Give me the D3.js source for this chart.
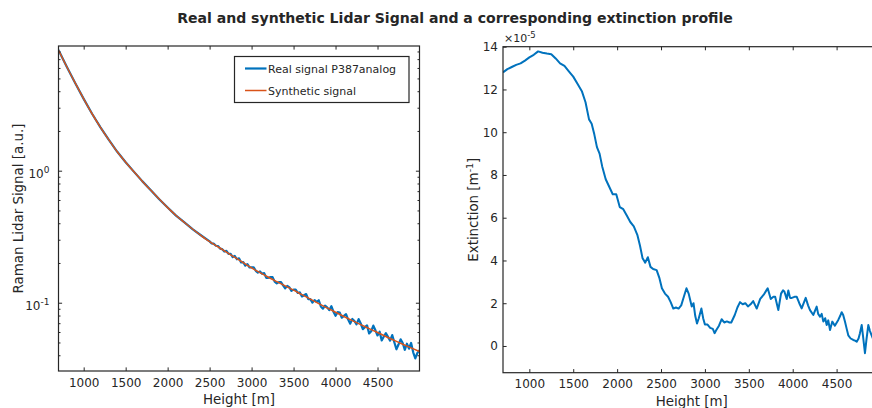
<!DOCTYPE html>
<html><head><meta charset="utf-8">
<script src="https://cdn.jsdelivr.net/npm/d3@7"></script>
<style>
body{margin:0;background:#fff}
text{font-family:"DejaVu Sans",sans-serif;fill:#262626}
</style>
</head><body><svg id="c" width="872" height="408"></svg>
<script>
// ---------------- DATA ----------------
const xTicks = [1000,1500,2000,2500,3000,3500,4000,4500];
const extTicks = [0,2,4,6,8,10,12,14];
const logMajorTicks = [0.1,1];
const logMinorTicks = [0.04,0.05,0.06,0.07,0.08,0.09,0.2,0.3,0.4,0.5,0.6,0.7,0.8,0.9,2,3,4,5,6,7,8];

const synthHeights = [700,800,900,1000,1100,1200,1300,1400,1500,1600,1700,1800,1900,2000,2100,2200,2300,2400,2500,2600,2700,2800,2900,3000,3100,3200,3300,3400,3500,3600,3700,3800,3900,4000,4100,4200,4300,4400,4500,4600,4700,4800,4900,5000];
const synthValues = [8.2,6.1,4.6,3.5,2.7,2.13,1.71,1.39,1.16,0.98,0.83,0.71,0.61,0.525,0.458,0.405,0.36,0.322,0.29,0.265,0.242,0.2205,0.201,0.1835,0.169,0.156,0.1445,0.134,0.1245,0.115,0.1065,0.0985,0.0913,0.0847,0.0787,0.0732,0.0682,0.0637,0.0595,0.0555,0.0518,0.0485,0.0455,0.0427];

const realHeights = [700,800,900,1000,1100,1200,1300,1400,1500,1600,1700,1800,1900,2000,2100,2200,2300,2400,
2500,2525,2550,2575,2600,2625,2650,2675,2700,2725,2750,2775,2800,2825,2850,2875,2900,2925,2950,2975,
3000,3025,3050,3075,3100,3125,3150,3175,3200,3225,3250,3275,3300,3325,3350,3375,3400,3425,3450,3475,
3500,3525,3550,3575,3600,3625,3650,3675,3700,3725,3750,3775,3800,3825,3850,3875,3900,3925,3950,3975,
4000,4025,4050,4075,4100,4125,4150,4175,4200,4225,4250,4275,4300,4325,4350,4375,4400,4425,4450,4475,
4500,4525,4550,4575,4600,4625,4650,4675,4700,4725,4750,4775,4800,4825,4850,4875,4900,4925,4950,4975,5000];
const realValues = [8.2,6.1,4.6,3.5,2.7,2.13,1.71,1.39,1.16,0.98,0.83,0.712,0.608,0.527,0.457,0.406,0.359,0.323,
0.2915,0.281,0.280,0.270,0.269,0.2567,0.2548,0.244,0.247,0.2342,0.2348,0.2214,0.226,0.2134,0.2171,0.2018,0.203,0.1907,0.1961,0.1851,
0.1853,0.1853,0.1745,0.1691,0.1724,0.1658,0.1674,0.1545,0.1544,0.1562,0.1563,0.1445,0.1402,0.1433,0.1435,0.1352,0.1286,0.1342,0.1306,0.1231,
0.1257,0.1258,0.1186,0.1197,0.1116,0.114,0.1163,0.1064,0.1065,0.1003,0.1046,0.1015,0.1044,0.0938,0.0902,0.095,0.0922,0.0879,0.0942,0.0855,
0.0796,0.0849,0.0842,0.077,0.0795,0.0819,0.0745,0.0694,0.0754,0.0727,0.0686,0.0751,0.0696,0.0631,0.0653,0.0674,0.0586,0.0608,0.0671,0.0618,
0.0565,0.0603,0.0518,0.0554,0.0588,0.0551,0.0516,0.0569,0.0502,0.0444,0.0482,0.0528,0.0495,0.044,0.0489,0.0449,0.0496,0.0421,0.0379,0.0417,0.0436];

// extinction in units of 1e-5 m^-1
const extHeights = [700,750,800,850,900,950,1000,1050,1100,1150,1200,1250,1300,1350,1400,1450,1500,1550,1600,1640,1680,1710,1740,1770,1800,1830,1870,1910,1950,1990,2030,2070,2110,2150,2190,2230,2260,2290,2320,2350,2380,2410,2450,2480,2510,2545,2580,2610,2640,2670,2700,2730,2760,2790,2815,2835,2850,2870,2890,2910,2930,2960,2980,3000,3030,3060,3090,3110,3130,3160,3190,3220,3250,3280,3300,3340,3370,3400,3430,3460,3490,3520,3550,3590,3630,3670,3700,3715,3750,3780,3800,3836,3867,3890,3905,3932,3950,3970,3990,4020,4046,4075,4102,4125,4148,4175,4197,4235,4273,4290,4311,4330,4349,4370,4387,4405,4425,4451,4480,4519,4540,4558,4575,4595,4615,4633,4660,4690,4710,4729,4750,4766,4786,4800,4823,4840,4861,4880,4899,4920,4950];
const extValues = [12.8,12.95,13.05,13.15,13.22,13.35,13.5,13.62,13.78,13.72,13.68,13.65,13.45,13.22,13.1,12.85,12.6,12.25,11.9,11.4,10.6,10.4,9.9,9.3,9.0,8.4,7.8,7.45,7.1,7.1,6.5,6.4,6.1,5.8,5.6,5.2,4.7,4.1,3.9,4.15,3.7,3.6,3.55,3.2,2.7,2.45,2.3,2.05,1.75,1.8,1.75,1.9,2.3,2.7,2.45,2.1,1.85,2.0,1.4,1.05,1.3,1.75,1.3,1.0,1.0,0.85,0.8,0.6,0.75,0.95,1.25,1.1,1.15,1.1,1.1,1.45,1.8,2.05,1.95,2.0,1.85,1.95,2.1,1.75,2.2,2.4,2.6,2.7,2.2,2.3,2.3,1.68,2.45,2.6,2.55,2.2,2.6,2.25,2.25,2.3,2.3,2.0,1.76,2.0,2.25,1.9,1.68,1.45,1.84,1.5,1.37,1.5,1.14,1.3,0.98,1.2,0.75,1.14,0.95,1.22,1.4,1.58,1.45,1.14,0.8,0.5,0.35,0.28,0.25,0.2,0.35,0.6,0.98,0.5,-0.34,0.3,0.98,0.7,0.5,0.28,0.4];

// ---------------- CHART ----------------
const svg = d3.select("#c");
const ink = "#262626";
const blue = "#0072BD", orange = "#D95319";

function superLabel(sel, base, sup, supSize) {
  sel.append("tspan").text(base);
  sel.append("tspan").attr("font-size", supSize).attr("dy", -5).text(sup);
}

// ===== LEFT PANEL =====
const L = {x0: 58.5, x1: 419.5, y0: 46, y1: 371};
const xL = d3.scaleLinear().domain([700, 5000]).range([L.x0, L.x1]);
const yL = d3.scaleLog().domain([0.0304, 8.8]).range([L.y1, L.y0]);

svg.append("clipPath").attr("id","clipL").append("rect")
  .attr("x", L.x0).attr("y", L.y0).attr("width", L.x1-L.x0).attr("height", L.y1-L.y0);

const realData = realHeights.map((h,i)=>[h, realValues[i]]);
const synthData = synthHeights.map((h,i)=>[h, synthValues[i]]);
const lineReal = d3.line().x(d=>xL(d[0])).y(d=>yL(d[1]));
const lineSynth = d3.line().x(d=>xL(d[0])).y(d=>yL(d[1])).curve(d3.curveMonotoneX);

svg.append("path").datum(realData).attr("clip-path","url(#clipL)")
  .attr("d", lineReal).attr("fill","none").attr("stroke", blue).attr("stroke-width", 2.2)
  .attr("stroke-linejoin","round");
svg.append("path").datum(synthData).attr("clip-path","url(#clipL)")
  .attr("d", lineSynth).attr("fill","none").attr("stroke", orange).attr("stroke-width", 1.5);

function styleAxis(g) {
  g.select(".domain").remove();
  g.selectAll(".tick line").attr("stroke", ink).attr("stroke-width", 1);
  g.selectAll(".tick text").attr("fill", ink).attr("font-size", 12).attr("font-family", "DejaVu Sans, sans-serif");
}

svg.append("g").attr("transform", `translate(0,${L.y1})`)
  .call(d3.axisBottom(xL).tickValues(xTicks).tickSize(-3.6).tickPadding(7).tickFormat(d3.format("d")))
  .call(styleAxis);
svg.append("g").attr("transform", `translate(0,${L.y0})`)
  .call(d3.axisTop(xL).tickValues(xTicks).tickSize(-3.6).tickFormat(""))
  .call(styleAxis);
svg.append("g").attr("transform", `translate(${L.x0},0)`)
  .call(d3.axisLeft(yL).tickValues(logMajorTicks).tickSize(-3.6).tickFormat(""))
  .call(styleAxis);
svg.append("g").attr("transform", `translate(${L.x0},0)`)
  .call(d3.axisLeft(yL).tickValues(logMinorTicks).tickSize(-2).tickFormat(""))
  .call(styleAxis);
svg.append("g").attr("transform", `translate(${L.x1},0)`)
  .call(d3.axisRight(yL).tickValues(logMajorTicks).tickSize(-3.6).tickFormat(""))
  .call(styleAxis);
svg.append("g").attr("transform", `translate(${L.x1},0)`)
  .call(d3.axisRight(yL).tickValues(logMinorTicks).tickSize(-2).tickFormat(""))
  .call(styleAxis);

logMajorTicks.forEach(v => {
  const t = svg.append("text").attr("x", L.x0 - 9).attr("y", yL(v) + 7)
    .attr("text-anchor","end").attr("font-size", 12);
  superLabel(t, "10", v === 1 ? "0" : "-1", 9);
});

svg.append("rect").attr("x", L.x0).attr("y", L.y0).attr("width", L.x1-L.x0).attr("height", L.y1-L.y0)
  .attr("fill","none").attr("stroke", ink).attr("stroke-width", 1.2);

svg.append("text").attr("x", (L.x0+L.x1)/2).attr("y", 404).attr("text-anchor","middle")
  .attr("font-size", 13.4).text("Height [m]");
svg.append("text").attr("transform", `translate(23,${(L.y0+L.y1)/2}) rotate(-90)`)
  .attr("text-anchor","middle").attr("font-size", 13.4).text("Raman Lidar Signal [a.u.]");

// legend
const lg = svg.append("g");
lg.append("rect").attr("x", 234.5).attr("y", 56.5).attr("width", 174.5).attr("height", 46)
  .attr("fill","#fff").attr("stroke", ink).attr("stroke-width", 1.2);
lg.append("line").attr("x1",245).attr("x2",266.5).attr("y1",68.5).attr("y2",68.5).attr("stroke",blue).attr("stroke-width",2.2);
lg.append("line").attr("x1",245).attr("x2",266.5).attr("y1",90.5).attr("y2",90.5).attr("stroke",orange).attr("stroke-width",1.5);
lg.append("text").attr("x",268).attr("y",72.5).attr("font-size",11).text("Real signal P387analog");
lg.append("text").attr("x",268).attr("y",94.5).attr("font-size",11).text("Synthetic signal");

// ===== RIGHT PANEL =====
const R = {x0: 503, x1: 880.5, y0: 46.7, y1: 372.7};
const xR = d3.scaleLinear().domain([700, 5000]).range([R.x0, R.x1]);
const yR = d3.scaleLinear().domain([-1.25, 14]).range([R.y1, R.y0]);

svg.append("clipPath").attr("id","clipR").append("rect")
  .attr("x", R.x0).attr("y", R.y0).attr("width", R.x1-R.x0).attr("height", R.y1-R.y0);

const extData = extHeights.map((h,i)=>[h, extValues[i]]);
svg.append("path").datum(extData).attr("clip-path","url(#clipR)")
  .attr("d", d3.line().x(d=>xR(d[0])).y(d=>yR(d[1])))
  .attr("fill","none").attr("stroke", blue).attr("stroke-width", 2).attr("stroke-linejoin","round");

svg.append("g").attr("transform", `translate(0,${R.y1})`)
  .call(d3.axisBottom(xR).tickValues(xTicks).tickSize(-3.6).tickPadding(7).tickFormat(d3.format("d")))
  .call(styleAxis);
svg.append("g").attr("transform", `translate(0,${R.y0})`)
  .call(d3.axisTop(xR).tickValues(xTicks).tickSize(-3.6).tickFormat(""))
  .call(styleAxis);
svg.append("g").attr("transform", `translate(${R.x0},0)`)
  .call(d3.axisLeft(yR).tickValues(extTicks).tickSize(-3.6).tickPadding(5).tickFormat(d3.format("d")))
  .call(styleAxis);
svg.append("g").attr("transform", `translate(${R.x1},0)`)
  .call(d3.axisRight(yR).tickValues(extTicks).tickSize(-3.6).tickFormat(""))
  .call(styleAxis);

svg.append("rect").attr("x", R.x0).attr("y", R.y0).attr("width", R.x1-R.x0).attr("height", R.y1-R.y0)
  .attr("fill","none").attr("stroke", ink).attr("stroke-width", 1.2);

const ex = svg.append("text").attr("x", R.x0 + 1).attr("y", 42).attr("font-size", 11).attr("fill","#555");
ex.append("tspan").text("×10");
ex.append("tspan").attr("font-size", 8.5).attr("dy", -4.5).text("-5");

svg.append("text").attr("x", xR(2850)).attr("y", 406).attr("text-anchor","middle")
  .attr("font-size", 13.4).text("Height [m]");
const yl = svg.append("text").attr("transform", `translate(478,${(R.y0+R.y1)/2}) rotate(-90)`)
  .attr("text-anchor","middle").attr("font-size", 13.4);
yl.append("tspan").text("Extinction [m");
yl.append("tspan").attr("font-size", 9.5).attr("dy", -5).text("-1");
yl.append("tspan").attr("dy", 5).text("]");

// ===== TITLE =====
const title = svg.append("text").attr("x", 455).attr("y", 23).attr("text-anchor","middle")
  .attr("font-weight","bold").attr("font-size", 13).attr("fill","#000")
  .text("Real and synthetic Lidar Signal and a corresponding extinction profile");
const tw = title.node().getComputedTextLength();
title.attr("font-size", 13 * 556 / tw);
</script>
</body></html>
